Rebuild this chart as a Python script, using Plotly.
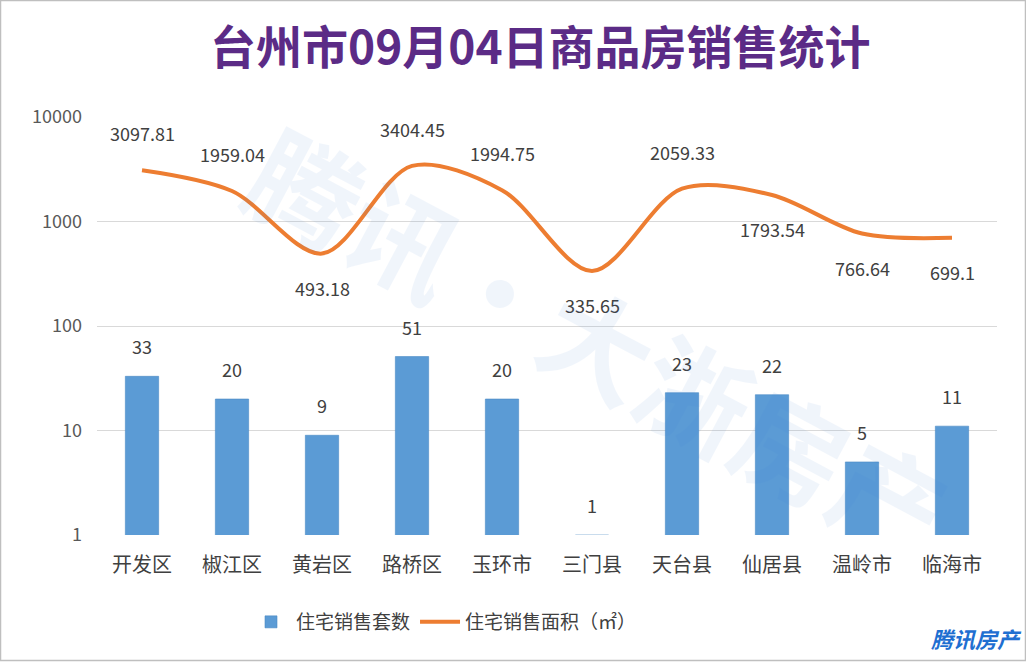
import math
import plotly.graph_objects as go

categories = ["开发区", "椒江区", "黄岩区", "路桥区", "玉环市", "三门县", "天台县", "仙居县", "温岭市", "临海市"]
units_sold = [33, 20, 9, 51, 20, 1, 23, 22, 5, 11]
area_sold = [3097.81, 1959.04, 493.18, 3404.45, 1994.75, 335.65, 2059.33, 1793.54, 766.64, 699.1]
area_label_side = ["above", "above", "below", "above", "above", "below", "above", "below", "below", "below"]
ytick_vals = [1, 10, 100, 1000, 10000]
ytick_text = ["1", "10", "100", "1000", "10000"]

title_text = "台州市09月04日商品房销售统计"
bar_name = "住宅销售套数"
line_name = "住宅销售面积（㎡）"

W, H = 1026, 662
ML, MR, MT, MB = 97, 29, 117, 127

FONT = "Noto Sans CJK SC, Noto Sans, sans-serif"
TXT = "#404040"

fig = go.Figure()
fig.add_trace(go.Bar(
    x=categories, y=units_sold, name=bar_name,
    marker=dict(color="#5b9bd5", line=dict(color="#4a89c4", width=0.6)),
    width=0.37,
))
fig.add_trace(go.Scatter(
    x=categories, y=area_sold, name=line_name, mode="lines",
    line=dict(color="#ed7d31", width=4, shape="spline", smoothing=0.9),
))

annotations = []
for c, v in zip(categories, units_sold):
    annotations.append(dict(x=c, y=math.log10(v), xref="x", yref="y", text=str(v),
                            showarrow=False, yshift=30,
                            font=dict(family=FONT, size=18, color=TXT)))
for c, v, side in zip(categories, area_sold, area_label_side):
    annotations.append(dict(x=c, y=math.log10(v), xref="x", yref="y", text=f"{v:g}",
                            showarrow=False, yshift=37 if side == "above" else -34,
                            font=dict(family=FONT, size=18, color=TXT)))

pw = W - ML - MR
ph = H - MT - MB
def px_x(p):
    return (p - ML) / pw
def px_y(p):
    return (H - MB - p) / ph

# title
annotations.append(dict(x=px_x(540), y=px_y(44), xref="paper", yref="paper", text=title_text,
                        showarrow=False, xanchor="center", yanchor="middle",
                        font=dict(family=FONT, size=46, color="#5b2b86", weight="bold")))
# watermark logo text
annotations.append(dict(x=px_x(1024), y=px_y(638), xref="paper", yref="paper", text="<i><b>腾讯房产</b></i>",
                        showarrow=False, xanchor="right", yanchor="middle",
                        font=dict(family=FONT, size=22, color="#1f6fd1")))
# faint watermark
annotations.append(dict(x=px_x(600), y=px_y(340), xref="paper", yref="paper", text="<b>腾讯·大浙房产</b>",
                        showarrow=False, xanchor="center", yanchor="middle", textangle=28,
                        opacity=0.07,
                        font=dict(family=FONT, size=110, color="#3b7fd6")))

shapes = [dict(type="rect", xref="paper", yref="paper",
               x0=px_x(0.5), x1=px_x(W - 0.5), y0=px_y(0.5), y1=px_y(H - 1.5),
               line=dict(color="#bfbfbf", width=1.5), fillcolor="rgba(0,0,0,0)", layer="below")]

fig.update_layout(
    width=W, height=H,
    margin=dict(l=ML, r=MR, t=MT, b=MB),
    paper_bgcolor="white", plot_bgcolor="white",
    font=dict(family=FONT, color=TXT),
    showlegend=True,
    legend=dict(orientation="h", x=px_x(246), y=px_y(622), xanchor="left", yanchor="middle",
                font=dict(family=FONT, size=19, color=TXT), itemwidth=40,
                bgcolor="rgba(0,0,0,0)"),
    annotations=annotations,
    shapes=shapes,
    bargap=0.63,
)
fig.update_xaxes(type="category", showgrid=False, showline=False, zeroline=False,
                 tickfont=dict(family=FONT, size=20, color=TXT), ticklabelstandoff=16,
                 ticks="")
fig.update_yaxes(type="log", range=[0, 4], tickvals=ytick_vals, ticktext=ytick_text,
                 showgrid=True, gridcolor="#d9d9d9", gridwidth=1, zeroline=False, showline=False,
                 tickfont=dict(family=FONT, size=18, color="#595959"), ticklabelstandoff=14,
                 ticks="")

fig.write_html("out.html")
